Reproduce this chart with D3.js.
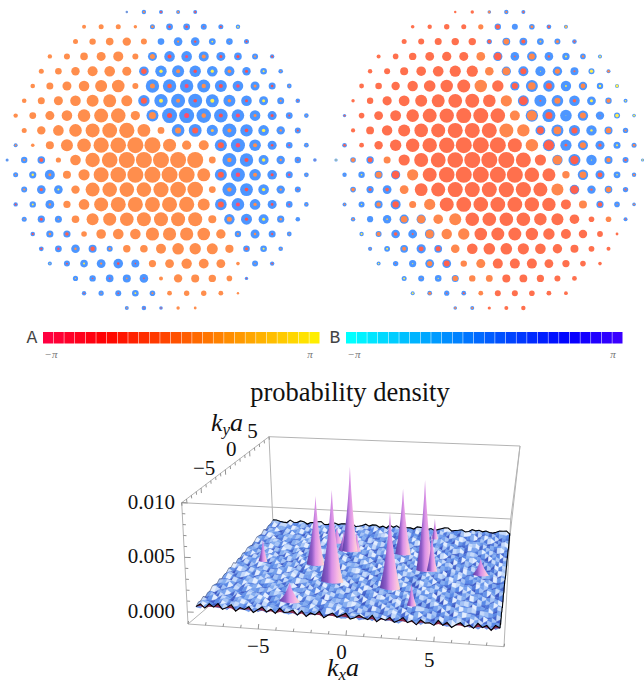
<!DOCTYPE html>
<html>
<head>
<meta charset="utf-8">
<script src="https://cdn.jsdelivr.net/npm/d3@7"></script>
<style>
body { margin: 0; background: white; }
text { font-family: "Liberation Serif", serif; }
</style>
</head>
<body>
<div id="chart"></div>
<script>
// phase letters used in the dot tables below (radians)
var phaseCode = {p: -2.8, r: -1.9, s: -1.2, f: -0.75, g: -0.06, o: 0.13, a: 1.5, y: 3.0};
var bluePhase = -0.13;

// left panel, rows top to bottom. radius: + is A outside, - is B outside
var leftOuter = [
  [-1.2,-2.2,-2,-2,-2],
  [2,2.5,2.5,1.7,-2.5,-3.4,-3.4,-3,-2.5,-2.2],
  [2.5,3.2,3.8,4.2,3,-3.3,-4.3,-4.3,-3.4,-3.3,-2.5],
  [2.2,3,3.8,4.5,5,3,-4.5,-5.3,-5.3,-5,-4.5,-3.8,-3,-2.2],
  [2.5,3.3,4.2,5,5.3,4.5,-4.8,-5.7,-6,-5.7,-5.3,-5,-4.2,-3.3,-2.3],
  [2.3,3.5,4.5,5.3,6,6.3,3,-6.7,-6.7,-6.7,-6.5,-6,-5.3,-4.5,-3.5,-2.4],
  [2.3,3.5,4.5,5.3,6,6.5,5.5,-5.7,-6.7,-7,-7,-6.5,-6,-5.3,-4.5,-3.5,-2.3],
  [2.2,3.4,4.5,5.3,6.3,7,7.3,4.6,-6,-7.5,-7.5,-7.3,-6.8,-6.3,-5.3,-4.5,-3.4,-2.3],
  [2.5,4.2,5.3,6.3,7,7.4,7.6,6.4,3.4,-6.3,-6.4,-5.6,-7,-6.2,-5.3,-4.2,-3],
  [-2,1.8,4,6,6.8,7.6,7.8,8,8,6.5,4.6,5,-6,-7,-5.8,-4.5,-3.3,-2.4],
  [-1.5,-3.2,-3.8,2.6,5.3,7.2,7.8,8,8,8,8,8,3.4,-7,-6.7,-5,-4.2,-3.2,-1.8],
  [-2.5,-3.6,-5,4,5.6,7.5,7.8,8,8,8,8,6.5,-6,-7,-5.8,-4.8,-3.5,-2.4],
  [-3,-4.3,-4.3,4.2,7,7.3,7.3,7.3,7.6,7.8,7.8,3.4,-7,-6.4,-5.3,-4.2,-3],
  [-2.2,-3.2,-4.4,3.6,5.3,7,7.5,7.5,7.5,7.5,7.6,6,-5.8,-6.3,-5.3,-4.5,-3.3,-2.3],
  [-2.5,-3.6,-3.5,3.8,6,6.5,6.8,7,7,7,7,4,-5.2,-5.5,-5,-3.6,-2.3],
  [-2.3,-3.6,-3.6,2.8,4.8,5.3,5.3,6.6,6.6,6.6,6.3,4.7,-3.2,-4.5,-3.5,-2.4],
  [-2.4,-3.4,-4.3,-4,-3,3.7,3.8,5,5.8,5.7,5.5,4.1,-3.3,-3.3,-2.3],
  [-2,-3,-3.8,-4.4,-4.8,-4,3.6,4.4,5.2,4.9,4.4,1.8,-3,-2.2],
  [-2.6,-3.2,-3.8,-4,-4.3,2,4.2,4,3.7,2.8,-1.7],
  [-2.2,-2.6,-3,-3.3,-2.8,2.4,2.7,2.7,2.4,1.2],
  [-2,-2.3,-1.8,1.7,1.4]
];
var leftInner = [
  [0.5,1,0.9,1,0.9],
  [0,0,0,0,1.3,1.2,1.2,0.7,1,0.9],
  [0,0,0,0,0,0,1.1,1.2,0.9,0.5,1],
  [0,0,0,0,0,0,2.5,2,1.5,2,1.5,1.5,1,1],
  [0,0,0,0,0,0,2.7,1.7,2,1.7,1.6,1.8,1.5,1,0.7],
  [0,0,0,0,0,0,0,2.5,2.3,2,2.2,2,1.7,1.5,1.2,0.8],
  [0,0,0,0,0,0,0,3,2,2,1.8,2,1.8,1.5,1.5,1,0.7],
  [0,0,0,0,0,0,0,0,3.5,2.5,2.5,2.3,2,2,1.5,1.5,1,0.6],
  [0,0,0,0,0,0,0,0,0,3,3,1.5,2,1.8,1.7,1.2,1],
  [1,0,0,0,0,0,0,0,0,0,0,0,3,2.2,2,1.3,1,0.6],
  [0.4,1,2,0,0,0,0,0,0,0,0,0,0,2.2,2,1.7,1.2,0.8,0.6],
  [0.7,1.2,1.5,0,0,0,0,0,0,0,0,0,3,2.2,2,1.5,1.2,0.6],
  [1,1.7,1,0,0,0,0,0,0,0,0,0,2.2,1.8,1.7,1.2,0.8],
  [0.9,1,1.2,0,0,0,0,0,0,0,0,0,3,2,1.7,1.3,1,0.6],
  [0.7,1.5,0.8,0,0,0,0,0,0,0,0,0,2.5,1.6,1.5,1.2,0],
  [1,1.2,1.7,0,0,0,0,0,0,0,0,0,1,1.2,1,0.7],
  [1,1.2,1.2,2.2,1.2,0,0,0,0,0,0,0,1.5,1,0.7],
  [0.6,0.9,1,1.1,1.3,0.8,0,0,0,0,0,0,0.7,0.8],
  [0.6,0.7,0.9,0.8,0.8,0,0,0,0,0,0.6],
  [0.7,0.6,0.8,0.9,1,0,0,0,0,0],
  [0.8,0.7,0.7,0,0]
];
var leftPhase = [
  "ooror",
  "ooooorrrry",
  "oooooooryor",
  "oooooo" + "orporror",
  "oooooo" + "syoryoryo",
  "ooooooo" + "osporporo",
  "ooooooo" + "syoryoryor",
  "oooooooo" + "orporporro",
  "ooooooooo" + "osaoryor",
  "oooooooooooo" + "sporpo",
  "oos" + "oooooooooo" + "oryorp",
  "oyo" + "ooooooooo" + "sporpo",
  "osy" + "ooooooooo" + "oryor",
  "ryo" + "ooooooooo" + "sporpo",
  "oro" + "ooooooooo" + "oryoo",
  "ros" + "ooooooooo" + "ooro",
  "rposo" + "ooooooo" + "syo",
  "yryorr" + "oooooo" + "or",
  "arpor" + "ooooo" + "r",
  "roryo" + "ooooo",
  "orroo"
];

// right panel, same layout
var rightOuter = [
  [1.2,1.7,-1.8,-2.2,-2],
  [1.8,2.2,2.7,2.5,2.6,-3.2,-3,-2.8,-2.4,-2],
  [2.5,3,3.5,3.7,3.7,-2.6,-3.9,-3.9,-3.4,-3,-2.3],
  [2,2.8,3.7,4.4,4.6,4.5,4.4,-4.6,-4.3,-4.8,-4.3,-3.7,-2.8,-2],
  [2.2,3,4,4.8,5.3,5.6,5.6,4.3,-4.6,-5,-5,-4.7,-4,-3,-2],
  [2.4,3.3,4.2,5.2,5.8,6.2,6.5,6.2,5.7,-4.6,-6,-5.7,-5.2,-4.2,-3.2,-2],
  [1.7,3.2,4.6,5.4,6,6.5,6.9,7,6.3,5.6,-5.5,-6,-5.8,-5.3,-4.4,-3.2,-2],
  [-1.7,2.8,4.4,5.4,6.3,7,7.2,7.5,7.5,7.3,5,-6.2,-6.5,-5.8,-5.2,-4.2,-3,-1.8],
  [2.1,3.9,5.2,6,6.8,7,7.5,7.5,7.5,7,6.2,-4.9,-6,-5.5,-5.2,-4,-2.7],
  [-2.3,2.4,4.2,5.7,6.7,7.2,7.7,8,8,8,7,6.2,-6,-5.6,-5,-4.5,-3.5,-2.5],
  [-1.6,-2.8,-3.7,3.5,5.6,7,7.4,7.8,8,8,8,7.5,5.6,-5.2,-6,-5.2,-4,-3,-1.6],
  [-2.2,-3.2,-4,-4.6,5.6,7,7.8,8,8,8,8,7.3,6.5,3.7,-5.2,-4.5,-3.4,-2.2],
  [-2.8,-3.6,-4.4,4.4,6.4,7,7.5,7.5,7.5,7.6,7.6,7,6,-4.8,-4.2,-3.8,-2.7],
  [-2,-3,-4,-5,3.5,5.6,7,7.4,7.3,7.4,7.4,7.2,6.7,5,4,-3.6,-2.8,-1.8],
  [-2.2,-3.1,-4.2,-4.6,-4.6,4.8,6,6.8,6.8,6.8,6.8,6.2,6,4.8,2.8,2.8,-2],
  [-2.2,-3,-4.3,-4.4,-4.8,5.2,5.7,6.3,6.5,6.5,6.2,5.7,5,4.2,2.9,1.4],
  [-2.1,-2.9,-3.9,-4.6,-3.9,4.3,5.3,5.8,5.8,5.6,5.3,4.7,4,2.9,2],
  [-2,-2.7,-3.6,-4.4,-4.4,3.2,4.5,5,5,5,4.4,3.6,2.8,1.8],
  [-2.5,-3,-3.3,-3.5,3.2,3.4,4,3.9,3.6,3,2.4],
  [-2,-2.4,-2.6,-2.4,2.4,3,3,2.8,2.4,1.9],
  [-1.8,-2,1.6,2,2.2]
];
var rightInner = [
  [0,0,1.2,1,0.9],
  [0,0,0,0,0,2.2,0.4,1.4,1.2,1.2],
  [0,0,0,0,0,1.8,2.8,2,1,1.5,1],
  [0,0,0,0,0,0,0,3.6,0.9,3,1.2,1,1.2,1],
  [0,0,0,0,0,0,0,0,3.8,3,0.5,2.5,1,1.6,1.2],
  [0,0,0,0,0,0,0,0,0,3,3.8,3,1,2.4,1.2,1.4],
  [0,0,0,0,0,0,0,0,0,0,4.3,1,3,1.7,1.5,2,0.8],
  [0.9,0,0,0,0,0,0,0,0,0,0,5,3.5,0.4,3,0.6,1.8,1],
  [0,0,0,0,0,0,0,0,0,0,0,3.4,3.8,3,1.2,2.6,1],
  [1.2,0,0,0,0,0,0,0,0,0,0,0,5,1.4,3,1.6,1,1.2],
  [0.7,2,2.4,0,0,0,0,0,0,0,0,0,0,4.6,4.2,0.6,2.2,1.2,0.8],
  [0.4,0.8,3,3.8,0,0,0,0,0,0,0,0,0,0,3.4,2.4,0.8,1],
  [1.8,1.5,1.8,0,0,0,0,0,0,0,0,0,0,4.2,1.2,2.6,1],
  [0.8,0.6,2.2,3.2,0,0,0,0,0,0,0,0,0,0,0,2.2,0.6,0.8],
  [1,0.3,0.9,3.3,4,0,0,0,0,0,0,0,0,0,0,0,0.7],
  [1,2,1.8,1,4,0,0,0,0,0,0,0,0,0,0,0],
  [0.7,1,2,2.4,2.5,0,0,0,0,0,0,0,0,0,0],
  [0.8,0.5,0.6,2.6,3,0,0,0,0,0,0,0,0,0],
  [1,0.6,0.6,2.7,0,0,0,0,0,0,0],
  [1,1.5,0.7,1,0,0,0,0,0,0],
  [1,1,0,0,0]
];
var rightPhase = [
  "ffggs",
  "ffffg" + "ssgsa",
  "fffff" + "sgsags",
  "ffffffg" + "ssgsygy",
  "fffffffg" + "gsygsyg",
  "fffffffgf" + "sgsygyy",
  "fffffffffg" + "ssgsygy",
  "s" + "fffffffffg" + "gsygsyy",
  "fffffffffgg" + "sgsygg",
  "s" + "ffffffffffg" + "ssgsyg",
  "ygs" + "gfffffffff" + "gsygsy",
  "oygs" + "gffffffffg" + "gsyg",
  "gss" + "gffffffffg" + "ssgs",
  "gygs" + "ggffffffffg" + "sgg",
  "ggagg" + "ggffffffffg" + "s",
  "ygssg" + "gg" + "fffffffff",
  "gygss" + "g" + "fffffffff",
  "ysygs" + "gg" + "fffffff",
  "ygyg" + "gg" + "fffff",
  "ygss" + "g" + "fffff",
  "ggfff"
];

// legend
var legendCells = d3.range(26);
var legendLabels = ["\u2212\u03c0", "\u03c0"];

// probability density plot
var titleText = "probability density";
var zTicks = [0, 0.005, 0.01];
var zTickLabels = ["0.000", "0.005", "0.010"];
var kTicks = [-5, 0, 5];
var kTickLabels = ["\u22125", "0", "5"];
var minorTicks = d3.range(-9, 10);
var zMinorTicks = d3.range(0, 11).map(function(d) { return d / 1000; });

var peakKx = [-3.8,-2.1,-2.07,1.73,1.67,3.56,3.53,4.03,-2.5,-1.6,-7.34,-3.9,3.44,7.33,-1.7,-3.3];
var peakKy = [0.9,-2.25,3.96,-2.8,3.96,1.08,7.2,1.08,4,4,0.9,-6.66,-5.76,0.9,-2.2,5.4];
var peakZ = [0.0074,0.0094,0.0094,0.0078,0.0074,0.0097,0.0026,0.0043,0.0024,0.0024,0.0026,0.0021,0.0024,0.002,0.003,0.002];
var peakW = [0.6,0.7,0.55,0.65,0.55,0.6,0.25,0.35,0.4,0.3,0.3,0.65,0.3,0.55,0.35,0.4];

// speckle of the noise floor, back row first. one digit per grid point
var floorRows = [
  "7742193386055891247366290148377150938264418772503699134602857362148890",
  "3918850247619337402817564982039248136670529036471826530799418041726539",
  "5206634971284075916393270155841690482537834192607540871523691596380427",
  "1759028346941722608540618937523578910264716254089357246981303728915064",
  "8364517290306258194771925483606025479138249507318681309427566450271893",
  "2098143675752940316835862079418743160592603891742539645012879182634750",
  "6471902853138576209492043715862196835047477125903607283461955037418926",
  "9325786041674913058218635924707584026319320648159761528790342693850147",
  "4180267395205794861373468051293910672854856913274094360152787148263905",
  "1736594028849231607550271936846482759301170394625828917403654520937186",
  "5602831749316807542989516402732079314586624850719370153629489362184057",
  "8247059316750392618424968170359613280475395172860446820931751807452963",
  "3591672480194685023760734295184358067129801649357229378154606241709385",
  "7028416953628519374038179560421790524863547263091891645072838593026174",
  "2964380175471062935891502834767246819305186905732437502841964075361982",
  "6183597204903748156246820719353501692748732594810664291738502917648053",
  "1450729863582630719473945180268963247015204867135915870369247360219485",
  "9736041582216497503812058694735128730469679132508482406951733648571029",
  "4297185630759302841668371409522674095381950381724639164827501084926357",
  "8051362947342076918559618273047439516028136824079570531298646295730418",
  "3716894025817593624020934751681805627394472695108324817063959037164852",
  "5942037168164028359773581640299263840715815036742967349250183812495076",
  "1308526794698371540247260935815071398246369701258491084637257456208139",
  "7685149320235746089191803726453842915607602948517345917302861963847502",
  "2439071856901682473556439180278127603594175426903873608529415208371694",
  "6170382495475839102612950476836359072418938071624528640931578637125940",
  "9824653017103268745984713609522046819375451892736061794250833094516287",
  "3065917248674912580339287541067593140682726380591410257386496781249053",
  "5718240936839604712560152839471468972350294716053886430915724120875369",
  "1492860573257491368093460712585830264719618572940335172480969752630184",
  "8203574169716083529417824960354962718503305794182692860154372468193705",
  "4630192785392840651752076381498194053276742186039517305942686095817342",
  "7951368024168307945286941257302307486915529604718348523617903817246059",
  "2086745193540926173831509748626741298035187352064970694831259534071826"
];
var frontRidge = [3,7,2,8,4,9,2,5,9,1,6,4,8,1,5,9,3,7,2,9,4,5,8,2,8,1,6,4,9,1,5,8,3,6,9,2,4,8,5,3,9,1,6,4,8,2,5,9,3,6,1,8,4,5,2,9,3,7,1,5,8,3,6,2,9,4,7,1,8,5];

var svg = d3.select("#chart").append("svg")
  .attr("width", 644)
  .attr("height", 684);

var defs = svg.append("defs");
defs.append("filter").attr("id", "soft")
  .append("feGaussianBlur").attr("stdDeviation", 0.45);

// colour scales of the two sublattices, same as the legend
var colorA = d3.scaleLinear().domain([-Math.PI, Math.PI])
  .range(["#ff0040", "#ffee00"]).interpolate(d3.interpolateHsl);
var colorB = d3.scaleLinear().domain([-Math.PI, Math.PI])
  .range(["#00ffff", "#3a00ff"]).interpolate(d3.interpolateHsl);
function soften(c) { return d3.interpolateRgb(c, "white")(0.3); }

function drawPanel(cx, spacing, outer, inner, phase) {
  var xScale = d3.scaleLinear().domain([-9, 9]).range([cx - 9 * spacing, cx + 9 * spacing]);
  var yScale = d3.scaleLinear().domain([-10, 10]).range([12, 308]);
  var g = svg.append("g").attr("filter", "url(#soft)");
  outer.forEach(function(row, r) {
    row.forEach(function(val, i) {
      var lat = i - (row.length - 1) / 2;
      var px = xScale(lat), py = yScale(r - 10);
      var code = phaseCode[phase[r][i]];
      var isA = val > 0;
      g.append("circle").attr("cx", px).attr("cy", py).attr("r", Math.abs(val))
        .attr("fill", soften(isA ? colorA(code) : colorB(bluePhase)));
      if (inner[r][i] > 0) {
        g.append("circle").attr("cx", px).attr("cy", py).attr("r", inner[r][i])
          .attr("fill", soften(isA ? colorB(bluePhase) : colorA(code)));
      }
    });
  });
}
drawPanel(161, 17.1, leftOuter, leftInner, leftPhase);
drawPanel(489.3, 17.03, rightOuter, rightInner, rightPhase);

// colour legends
function drawLegend(name, nameX, x0, x1, color) {
  var band = d3.scaleBand().domain(legendCells).range([x0, x1]);
  var t = d3.scaleLinear().domain([0, 25]).range([-Math.PI, Math.PI]);
  svg.append("g").selectAll("rect").data(legendCells).enter().append("rect")
    .attr("x", function(d) { return band(d); })
    .attr("y", 332)
    .attr("width", band.bandwidth() - 0.5)
    .attr("height", 11.5)
    .attr("fill", function(d) { return color(t(d)); });
  svg.append("text").attr("x", nameX).attr("y", 343)
    .attr("text-anchor", "middle")
    .style("font-family", "'Liberation Mono', monospace")
    .attr("font-size", 18).attr("fill", "#444").text(name);
  svg.append("text").attr("x", x0 + 8).attr("y", 358)
    .attr("text-anchor", "middle").attr("font-style", "italic")
    .attr("font-size", 11).attr("fill", "#777").text(legendLabels[0]);
  svg.append("text").attr("x", x1 - 10).attr("y", 358)
    .attr("text-anchor", "middle").attr("font-style", "italic")
    .attr("font-size", 11).attr("fill", "#777").text(legendLabels[1]);
}
drawLegend("A", 32, 43, 320, colorA);
drawLegend("B", 335, 346, 623, colorB);

svg.append("text").attr("x", 350).attr("y", 401)
  .attr("text-anchor", "middle").attr("font-size", 26.5).attr("fill", "#111")
  .text(titleText);

// 3D box, corners
var boxLine = d3.line();
var boxEdges = [
  [[269, 436.7], [520, 446]],
  [[181.7, 502.7], [269, 436.7]],
  [[269, 436.7], [273, 524]],
  [[520, 446], [510, 536]],
  [[188, 624], [228, 590]],
  [[181.7, 502.7], [510.7, 519]],
  [[510.7, 519], [520, 446]],
  [[181.7, 502.7], [188, 624]],
  [[510.7, 519], [504, 646.7]],
  [[188, 624], [504, 646.7]]
];
var boxG = svg.append("g");
boxG.selectAll("path").data(boxEdges).enter().append("path")
  .attr("d", boxLine).attr("fill", "none")
  .attr("stroke", "#b4b4b4").attr("stroke-width", 1);

// kx, ky to a spot on the z=0 floor, z up the picture
var uScale = d3.scaleLinear().domain([-9, 9]).range([0, 1]);
var vScale = d3.scaleLinear().domain([-9, 9]).range([0, 1]);
var zScale = d3.scaleLinear().domain([0, 0.01]).range([0, 1]);
var frontX = d3.scaleLinear().domain([0, 1]).range([196, 500]);
var frontY = d3.scaleLinear().domain([0, 1]).range([610, 633]);
var backX = d3.scaleLinear().domain([0, 1]).range([273, 510]);
var backY = d3.scaleLinear().domain([0, 1]).range([524, 536]);
var zHeight = d3.scaleLinear().domain([0, 1]).range([110, 86]);

function project(kx, ky, z) {
  var u = uScale(kx), v = vScale(ky);
  var fx = frontX(u), fy = frontY(u), bx = backX(u), by = backY(u);
  return [fx + (bx - fx) * v, fy + (by - fy) * v - zScale(z) * zHeight(v)];
}

// surface from the floor digits
var floorZ = 0.00004;
var rowsN = floorRows.length;
var colsN = d3.min(floorRows, function(d) { return d.length; });
var kxGrid = d3.scaleLinear().domain([0, colsN - 1]).range([-9, 9]);
var kyGrid = d3.scaleLinear().domain([0, rowsN - 1]).range([9, -9]);
function digit(r, c) { return +floorRows[r][c]; }
function gridPoint(r, c) { return project(kxGrid(c), kyGrid(r), digit(r, c) * floorZ + 0.0002); }
var shade = d3.scaleLinear().domain([0, 3, 6, 9])
  .range(["#3d58c4", "#5888e6", "#86aef0", "#e4eeff"]);

var surface = svg.append("g").attr("filter", "url(#soft)");
for (var r = 0; r < rowsN - 1; r++) {
  for (var c = 0; c < colsN - 1; c++) {
    var cell = [gridPoint(r, c), gridPoint(r, c + 1), gridPoint(r + 1, c + 1), gridPoint(r + 1, c)];
    var fill = shade(digit(r, c));
    surface.append("path").attr("d", boxLine(cell) + "Z")
      .attr("fill", fill).attr("stroke", fill).attr("stroke-width", 0.5);
  }
}

// black mesh boundary, maroon underside where the front edge lifts
var frontLine = d3.range(colsN).map(function(i) {
  return project(kxGrid(i), -9, frontRidge[i] * 0.00007 + 0.0001);
});
var backLine = d3.range(colsN).map(function(c) { return gridPoint(0, c); });
var rightLine = d3.range(rowsN).map(function(q) { return gridPoint(q, colsN - 1); });
var leftLine = d3.range(rowsN).map(function(q) { return gridPoint(q, 0); });
var lastRow = d3.range(colsN - 1, -1, -1).map(function(c) { return gridPoint(rowsN - 1, c); });
surface.append("path").attr("d", boxLine(frontLine.concat(lastRow)) + "Z").attr("fill", "#6f98ea");
var under = d3.area()
  .x(function(d) { return d[0]; })
  .y0(function(d, i) { return Math.max(d[1], project(kxGrid(i), -9, 0.0004)[1]); })
  .y1(function(d) { return d[1]; });
surface.append("path").attr("d", under(frontLine)).attr("fill", "#8a2a4c");
[frontLine, backLine, rightLine].forEach(function(line) {
  surface.append("path").attr("d", boxLine(line)).attr("fill", "none")
    .attr("stroke", "#000").attr("stroke-width", 1.1);
});
surface.append("path").attr("d", boxLine(leftLine)).attr("fill", "none")
  .attr("stroke", "#223").attr("stroke-width", 0.4);

// spikes, back to front
var spikeFill = defs.append("linearGradient").attr("id", "spike");
[[0, "#5a3fa8"], [0.3, "#8f5cc8"], [0.5, "#d990e6"], [0.75, "#f6b6e4"], [1, "#ffdccc"]].forEach(function(s) {
  spikeFill.append("stop").attr("offset", s[0]).attr("stop-color", s[1]);
});
var order = d3.range(peakKx.length).sort(function(a, b) { return peakKy[b] - peakKy[a]; });
var spikes = svg.append("g").attr("filter", "url(#soft)");
order.forEach(function(i) {
  var base = project(peakKx[i], peakKy[i], 0.0003);
  var tip = project(peakKx[i], peakKy[i], peakZ[i]);
  var left = project(peakKx[i] - peakW[i], peakKy[i], 0.0003);
  var right = project(peakKx[i] + peakW[i], peakKy[i], 0.0003);
  var w = (right[0] - left[0]) / 2;
  var h = base[1] - tip[1];
  var d = d3.path();
  d.moveTo(left[0], left[1]);
  d.quadraticCurveTo(base[0] - w * 0.28, base[1] - h * 0.42, tip[0], tip[1]);
  d.quadraticCurveTo(base[0] + w * 0.28, base[1] - h * 0.42, right[0], right[1]);
  d.quadraticCurveTo(base[0], base[1] + w * 0.3, left[0], left[1]);
  spikes.append("path").attr("d", d.toString()).attr("fill", "url(#spike)");
});

// z axis on the front left edge
var zY = d3.scaleLinear().domain([0, 0.01]).range([612, 502.7]);
var zX = d3.scaleLinear().domain([0, 0.01]).range([187.7, 181.7]);
var axes = svg.append("g").attr("stroke", "#777").attr("stroke-width", 0.8);
zMinorTicks.forEach(function(t) {
  var big = zTicks.indexOf(t) >= 0;
  axes.append("line").attr("x1", zX(t)).attr("x2", zX(t) + (big ? 6 : 3))
    .attr("y1", zY(t)).attr("y2", zY(t) + 0.2);
});
zTicks.forEach(function(t, i) {
  svg.append("text").attr("x", 175).attr("y", zY(t) + 6)
    .attr("text-anchor", "end").attr("font-size", 21).attr("fill", "#111")
    .text(zTickLabels[i]);
});

// kx ticks along the bottom front edge
var kxX = d3.scaleLinear().domain([-9, 9]).range([188, 504]);
var kxY = d3.scaleLinear().domain([-9, 9]).range([624, 646.7]);
minorTicks.forEach(function(t) {
  var big = kTicks.indexOf(t) >= 0;
  axes.append("line").attr("x1", kxX(t)).attr("x2", kxX(t) + 0.5)
    .attr("y1", kxY(t)).attr("y2", kxY(t) - (big ? 5 : 3));
});
// ky ticks along the top left edge
var kyX = d3.scaleLinear().domain([-9, 9]).range([181.7, 269]);
var kyY = d3.scaleLinear().domain([-9, 9]).range([502.7, 436.7]);
minorTicks.forEach(function(t) {
  var big = kTicks.indexOf(t) >= 0;
  axes.append("line").attr("x1", kyX(t)).attr("x2", kyX(t) + 0.3)
    .attr("y1", kyY(t)).attr("y2", kyY(t) + (big ? 5 : 3));
});

kTicks.forEach(function(t, i) {
  svg.append("text").attr("x", kxX(t) - (i === 0 ? 0 : 4.5)).attr("y", kxY(t) + 24 + (i === 2 ? 1.5 : 0))
    .attr("text-anchor", "middle").attr("font-size", 21).attr("fill", "#111")
    .text(kTickLabels[i]);
  svg.append("text").attr("x", kyX(t) + 3 + (i === 1 ? 3 : 0)).attr("y", kyY(t) - (i === 1 ? 14 : 13))
    .attr("text-anchor", "middle").attr("font-size", 21).attr("fill", "#111")
    .text(kTickLabels[i]);
});

// axis names
function axisName(x, y, sub) {
  var t = svg.append("text").attr("x", x).attr("y", y)
    .attr("font-style", "italic").attr("font-size", 26).attr("fill", "#111");
  t.append("tspan").text("k");
  t.append("tspan").attr("dy", 4).attr("font-size", 17).text(sub);
  t.append("tspan").attr("dy", -4).text("a");
}
axisName(327, 676, "x");
axisName(211, 431, "y");
</script>
</body>
</html>
